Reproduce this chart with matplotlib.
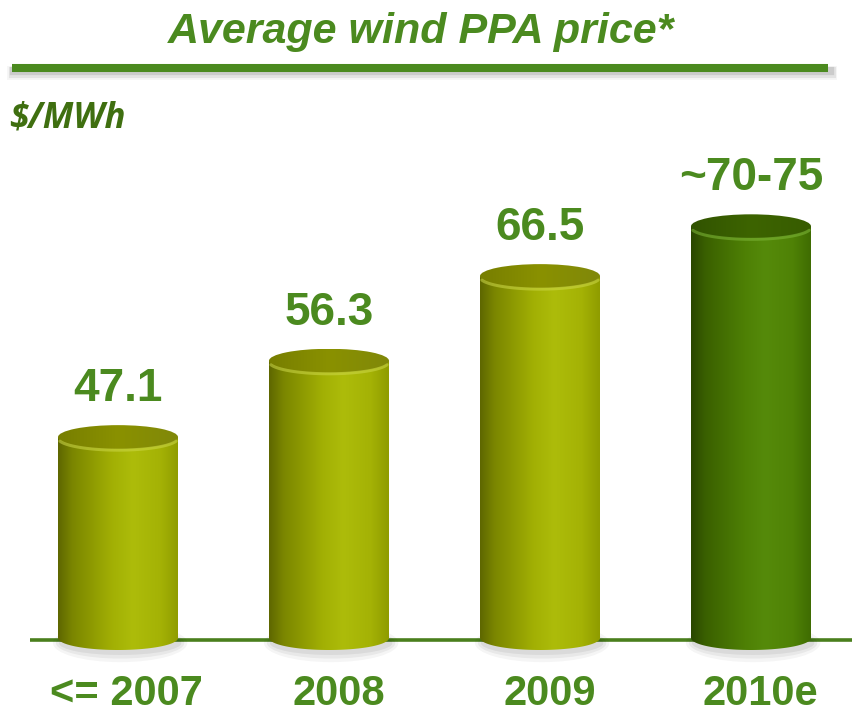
import numpy as np
import matplotlib
matplotlib.use("Agg")
import matplotlib.pyplot as plt
from matplotlib.path import Path
from matplotlib.patches import PathPatch, Ellipse
from matplotlib.colors import LinearSegmentedColormap

# ---- data ----
categories = ["<= 2007", "2008", "2009", "2010e"]
values = [47.1, 56.3, 66.5, 72.5]
value_labels = ["47.1", "56.3", "66.5", "~70-75"]
title = "Average wind PPA price*"
unit_label = "$/MWh"

# ---- style ----
W, H = 853, 713
TXT = "#4b8a1f"
fig = plt.figure(figsize=(W / 100, H / 100), dpi=100)
fig.patch.set_facecolor("white")

BASE = 22.9          # value at the baseline
PX_PER_UNIT = 8.3
BASE_PIX = 638
X0_PIX, X_STEP = 118, 211
ax = fig.add_axes([0, 0, 1, 1])
ax.set_xlim(-X0_PIX / X_STEP, (W - X0_PIX) / X_STEP)
ax.set_ylim(BASE - (H - BASE_PIX) / PX_PER_UNIT, BASE + BASE_PIX / PX_PER_UNIT)
ax.axis("off")

bar_w = 120 / X_STEP
ell_h = 24 / PX_PER_UNIT

cm_yellow = LinearSegmentedColormap.from_list(
    "y", [(0, "#5e6700"), (0.12, "#7b8600"), (0.45, "#a2b004"),
          (0.62, "#adbc0a"), (0.85, "#a4b205"), (1.0, "#8f9c00")])
cm_green = LinearSegmentedColormap.from_list(
    "g", [(0, "#2a4700"), (0.12, "#3a6000"), (0.45, "#4e8005"),
          (0.62, "#558a0a"), (0.85, "#4f8206"), (1.0, "#3f6c02")])
top_yellow = LinearSegmentedColormap.from_list(
    "ty", [(0, "#777e00"), (0.5, "#8a9100"), (1, "#80880a")])
top_green = LinearSegmentedColormap.from_list(
    "tg", [(0, "#315300"), (0.5, "#3d6400"), (1, "#375c00")])
rim_colors = ["#cdd84a", "#7fb83a"]

grad = np.linspace(0, 1, 256).reshape(1, -1)

# baseline
ax.plot([30 / X_STEP - X0_PIX / X_STEP, (W - X0_PIX) / X_STEP], [BASE - 0.25] * 2,
        color="#4a7f1d", lw=2.6, zorder=1, solid_capstyle="butt")

for i, v in enumerate(values):
    xc = i
    is_est = i == len(values) - 1
    cm = cm_green if is_est else cm_yellow
    tcm = top_green if is_est else top_yellow
    xl, xr = xc - bar_w / 2, xc + bar_w / 2
    # shadow under bar
    for k, a in enumerate([0.06, 0.05, 0.04]):
        ax.add_patch(Ellipse((xc + 0.01, BASE - 0.6), bar_w * (1.02 + 0.05 * k),
                             ell_h * (1.0 + 0.3 * k), color="black", alpha=a,
                             lw=0, zorder=1.5))
    # body path
    t = np.linspace(np.pi, 2 * np.pi, 60)
    bx = xc + bar_w / 2 * np.cos(t)
    by = BASE + ell_h / 2 * np.sin(t)
    verts = list(zip(bx, by)) + [(xr, v), (xl, v), (bx[0], by[0])]
    codes = [Path.MOVETO] + [Path.LINETO] * (len(verts) - 2) + [Path.CLOSEPOLY]
    body = PathPatch(Path(verts, codes), facecolor="none", lw=0)
    ax.add_patch(body)
    im = ax.imshow(grad, cmap=cm, aspect="auto",
                   extent=[xl, xr, BASE - ell_h, v], zorder=2, interpolation="bicubic")
    im.set_clip_path(body)
    # top ellipse
    top = Ellipse((xc, v), bar_w, ell_h, facecolor="none", lw=0, zorder=3)
    ax.add_patch(top)
    im2 = ax.imshow(grad, cmap=tcm, aspect="auto",
                    extent=[xl, xr, v - ell_h / 2, v + ell_h / 2], zorder=3,
                    interpolation="bicubic")
    im2.set_clip_path(top)
    # highlight rim on the front of the top
    tt = np.linspace(np.pi * 1.08, np.pi * 1.92, 60)
    rx = xc + bar_w / 2 * np.cos(tt)
    ry = v + ell_h / 2 * np.sin(tt)
    ax.plot(rx, ry - 0.12, color=rim_colors[1 if is_est else 0], lw=2.2,
            alpha=0.55, zorder=4, solid_capstyle="round")
    # value label
    ax.annotate(value_labels[i], (xc, v), xytext=(0, 26), textcoords="offset points",
                ha="center", va="baseline", fontsize=33, fontweight="bold",
                family="Liberation Sans", color=TXT, zorder=5)
    # category label
    ax.text(xc + (0.04 if i == 0 else 0.045), BASE - (705 - BASE_PIX) / PX_PER_UNIT,
            categories[i], ha="center", va="baseline", fontsize=30,
            fontweight="bold", family="Liberation Sans", color=TXT)

# title and underline
fig.text(421 / W, 1 - 43 / H, title, ha="center", va="baseline", fontsize=31,
         fontweight="bold", fontstyle="italic", family="Liberation Sans", color=TXT)
for k, a in enumerate([0.10, 0.07, 0.04]):
    fig.add_artist(plt.Line2D([14 / W, 830 / W], [1 - (71 + k) / H] * 2,
                              color="black", alpha=a, lw=6 + 2 * k))
fig.add_artist(plt.Line2D([12 / W, 828 / W], [1 - 68 / H] * 2, color="#4b8a1f",
                          lw=5.8, solid_capstyle="butt"))

fig.text(9 / W, 1 - 127 / H, unit_label, ha="left", va="baseline", fontsize=25,
         fontweight="bold", fontstyle="italic", family="Open Sans", color="#3f6f10")

fig.savefig("out.png", dpi=100, facecolor="white")
